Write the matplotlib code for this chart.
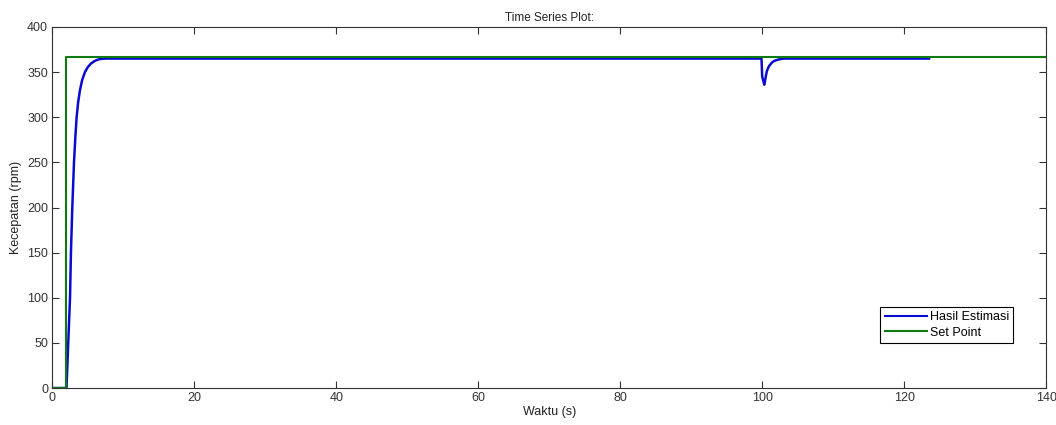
import matplotlib
matplotlib.use('Agg')
import matplotlib.pyplot as plt

plt.rcParams['font.family'] = ['Liberation Sans', 'DejaVu Sans']

# Set point (rpm): step at t = 2 s, held to the end of the run
sp_time = [0, 2.0, 2.0, 140]
sp_speed = [0, 0, 366.5, 366.5]

# Estimated speed (rpm): rise after the step, load dip at t = 100 s
est_time = [0, 2.0, 2.25, 2.5, 2.63, 2.82, 3.06, 3.25, 3.43, 3.65, 3.9, 4.2,
            4.6, 5.0, 5.45, 5.9, 6.3, 6.7, 7.5,
            99.9, 100.0, 100.3, 100.5, 100.65, 100.85, 101.0, 101.3, 101.6,
            102.0, 102.3, 103.0, 123.5]
est_speed = [0, 0, 50, 100, 150, 200, 250, 278, 300, 317, 330, 341,
             350, 355.5, 359.5, 362, 363.5, 364.5, 365,
             365, 345, 336, 345, 351, 355, 357, 360, 362,
             363.3, 364, 365, 365]

plt.figure(figsize=(10.56, 4.25), dpi=100)
ax = plt.axes([0.0495, 0.087, 0.9412, 0.8495])
ax.plot(est_time, est_speed, color='#0a0ad0', linewidth=1.8, label='Hasil Estimasi')
ax.plot(sp_time, sp_speed, color='#0f7a0f', linewidth=1.5, label='Set Point')

ax.set_xlim(0, 140)
ax.set_ylim(0, 400)
ax.set_xticks(range(0, 141, 20))
ax.set_yticks(range(0, 401, 50))
ax.tick_params(direction='in', top=True, right=True, length=5, width=0.8,
               labelsize=9, colors='#333333', pad=3)
for s in ax.spines.values():
    s.set_color('#333333')
    s.set_linewidth(0.8)

ax.set_title('Time Series Plot:', fontsize=8.5, color='#222222', pad=4)
ax.set_xlabel('Waktu (s)', fontsize=9, color='#222222', labelpad=1)
ax.set_ylabel('Kecepatan (rpm)', fontsize=9, color='#222222', labelpad=4)

leg = ax.legend(loc='lower right', bbox_to_anchor=(0.967, 0.125), borderaxespad=0,
                fontsize=9, fancybox=False, framealpha=1, edgecolor='black',
                handlelength=3.4, handletextpad=0.2, borderpad=0.35,
                labelspacing=0.25)
leg.get_frame().set_linewidth(0.8)
for h in leg.get_lines():
    h.set_linewidth(1.5)

plt.savefig('out.png', dpi=100)
